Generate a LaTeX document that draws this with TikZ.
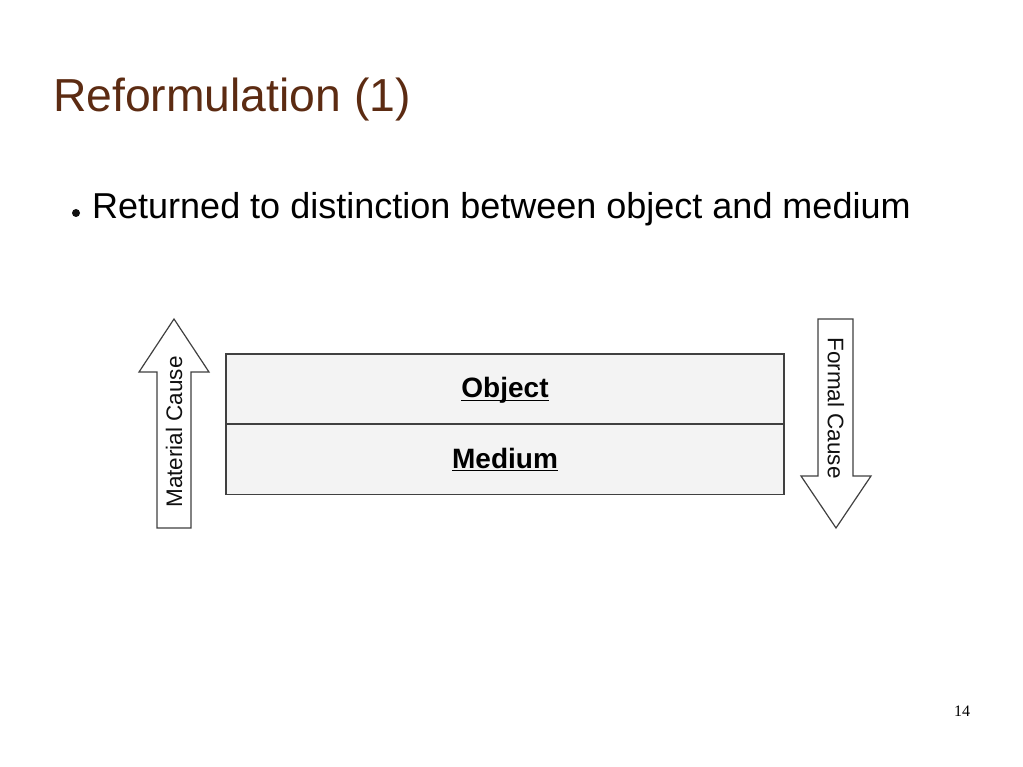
\documentclass[tikz,border=0pt]{standalone}
\usepackage{fontspec}
\setmainfont{Liberation Sans}
\newfontfamily\serifnum{Liberation Serif}
\usetikzlibrary{positioning,calc}
\usepackage{xcolor}
\definecolor{slTitle}{HTML}{5C2B12}
\definecolor{slInk}{HTML}{111111}
\definecolor{slEdge}{HTML}{404040}
\definecolor{slCell}{HTML}{F3F3F3}
\newcommand{\ul}[1]{\underline{\raisebox{0pt}[\height][1pt]{#1}}}
\tikzset{
  cell/.style={draw=slEdge, fill=slCell, line width=1.2pt, minimum width=558pt, minimum height=69.5pt, inner sep=0pt, font=\fontsize{28}{32}\selectfont\bfseries},
  bigarr/.style={draw=slEdge, fill=white, line width=1.2pt, line join=miter},
  cause/.style={font=\fontsize{22.5}{26}\selectfont, text=slInk, inner sep=0pt},
}

\begin{document}
\begin{tikzpicture}[x=1pt, y=-1pt]
            \useasboundingbox (0,0) rectangle (1023,767);
            \node[anchor=base west, text=slTitle, font=\fontsize{46.3}{52}\selectfont, inner sep=0pt] (title) at (53,112) {Reformulation (1)};
            \fill[slInk] (76,213) circle (4pt);
            \node[anchor=base west, text=black, font=\fontsize{36}{40}\selectfont, inner sep=0pt] (pt1) at (92,219) {Returned to distinction between object and medium};
            \node[cell] (obj) at (505,388.75) {\ul{Object}};
            \node[cell, below=0pt of obj] (med) {\ul{Medium}};
            % material cause (up) and formal cause (down)
            \draw[bigarr] (174,319) -- (209,372) -- (191,372) -- (191,528) -- (157,528) -- (157,372) -- (139,372) -- cycle;
            \node[cause, rotate=90] (mat) at (174,432) {Material Cause};
            \draw[bigarr] (818,319) -- (853,319) -- (853,476) -- (871,476) -- (836,528) -- (801,476) -- (818,476) -- cycle;
            \node[cause, rotate=-90] (frm) at (836,408) {Formal Cause};
            \node[anchor=base, font=\serifnum\fontsize{16}{18}\selectfont, inner sep=0pt] (pg) at (962,716) {14};
        \end{tikzpicture}
\end{document}
